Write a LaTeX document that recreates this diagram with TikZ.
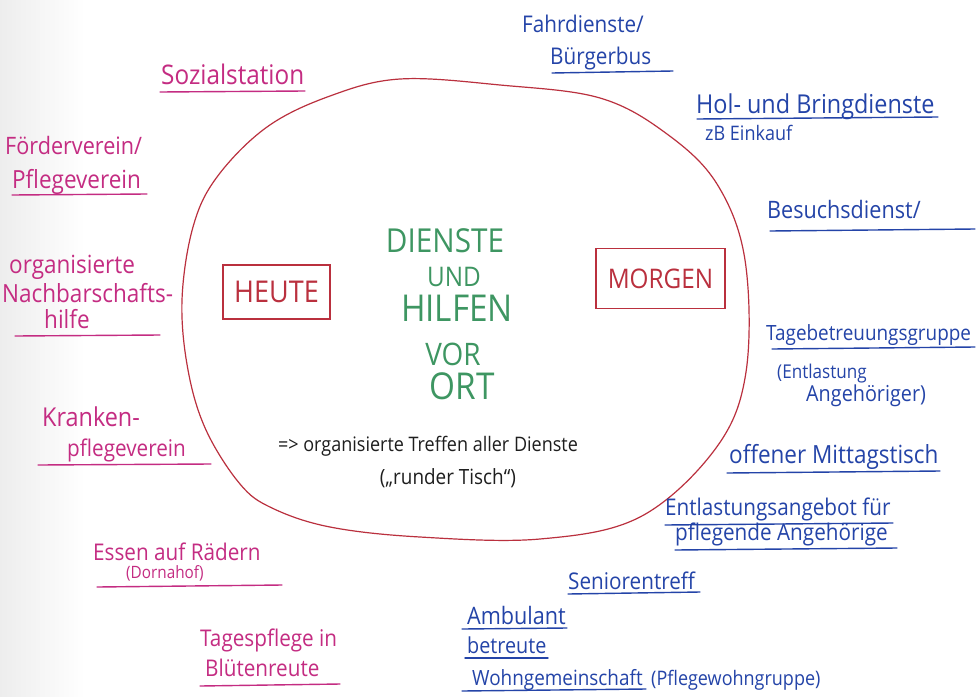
\documentclass[tikz,border=0pt]{standalone}
\usepackage{fontspec}
\setmainfont[FakeStretch=0.9]{Open Sans}
\definecolor{penpink}{RGB}{196,44,130}
\definecolor{penblue}{RGB}{36,68,168}
\definecolor{penred}{RGB}{186,48,62}
\definecolor{pengreen}{RGB}{62,150,98}
\definecolor{penblack}{RGB}{30,30,30}
\newcommand{\fsz}[1]{\fontsize{#1}{#1}\selectfont}
\tikzset{
  lbl/.style={inner sep=0pt, anchor=base west},
  pinklbl/.style={lbl, text=penpink},
  bluelbl/.style={lbl, text=penblue},
  pinkline/.style={draw=penpink, line width=1.4pt, line cap=round},
  blueline/.style={draw=penblue, line width=1.4pt, line cap=round},
  centrelbl/.style={inner sep=0pt, text=pengreen, anchor=center},
  framebox/.style={draw=penred, line width=1.3pt, inner sep=0pt, text=penred}
}
\begin{document}
\begin{tikzpicture}[x=1pt, y=-1pt]
  % paper
  \useasboundingbox (0,0) rectangle (976,696);
  \fill[white] (0,0) rectangle (976,696);
  \shade[left color=black!7, right color=white] (0,0) rectangle (85,696);

  % the big round outline in the middle
  \draw[penred, line width=1.2pt] plot[smooth cycle, tension=0.6] coordinates {
    (400,79) (500,85) (600,98) (667,134) (717,184) (745,260) (746,372)
    (716,448) (640,517) (540,539) (420,537) (330,527) (272,508) (240,484)
    (206,430) (188,370) (182,300) (193,227) (217,177) (267,127) (330,96)};

  % centre title
  \node[centrelbl, font=\fsz{33}] (dienste) at (445,241) {DIENSTE};
  \node[centrelbl, font=\fsz{27}] (und) at (454,277) {UND};
  \node[centrelbl, font=\fsz{37}] (hilfen) at (457,308) {HILFEN};
  \node[centrelbl, font=\fsz{31}] (vor) at (453,354) {VOR};
  \node[centrelbl, font=\fsz{37}] (ort) at (462,386) {ORT};

  % framed keywords
  \node[framebox, minimum width=107pt, minimum height=54pt, font=\fsz{30}]
    (heute) at (276.5,292) {HEUTE};
  \node[framebox, minimum width=129pt, minimum height=60pt, font=\fsz{27}]
    (morgen) at (660.5,278.5) {MORGEN};

  % note below the title
  \node[inner sep=0pt, text=penblack, font=\fsz{20}] (treffen) at (428,446)
    {=> organisierte Treffen aller Dienste};
  \node[inner sep=0pt, text=penblack, font=\fsz{21}] (tisch) at (448,478)
    {(„runder Tisch“)};

  % services of today (left side)
  \node[pinklbl, font=\fsz{27}] (sozial) at (161,84) {Sozialstation};
  \draw[pinkline] (160,92) -- (305,91);

  \node[pinklbl, font=\fsz{24}] (foerder) at (5,154) {Förderverein/};
  \node[pinklbl, font=\fsz{25}] (pflegev) at (12,188) {Pflegeverein};
  \draw[pinkline] (12,195) -- (147,194);

  \node[pinklbl, font=\fsz{25}] (orga) at (9,273) {organisierte};
  \node[pinklbl, font=\fsz{25}] (nachbar) at (2,302) {Nachbarschafts-};
  \node[pinklbl, font=\fsz{25}] (hilfe) at (44,328) {hilfe};
  \draw[pinkline] (15,336) -- (160,335);

  \node[pinklbl, font=\fsz{26}] (kranken) at (42,426) {Kranken-};
  \node[pinklbl, font=\fsz{23}] (kpflege) at (67,456) {pflegeverein};
  \draw[pinkline] (38,465) -- (211,464);

  \node[pinklbl, font=\fsz{23}] (essen) at (93,560) {Essen auf Rädern};
  \node[pinklbl, font=\fsz{17}] (dorna) at (126,578) {(Dornahof)};
  \draw[pinkline] (97,587) -- (282,585);

  \node[pinklbl, font=\fsz{23}] (tagespfl) at (200,646) {Tagespflege in};
  \node[pinklbl, font=\fsz{23}] (bluet) at (205,676) {Blütenreute};
  \draw[pinkline] (200,686) -- (340,684);

  % services of tomorrow (right side)
  \node[bluelbl, font=\fsz{23}] (fahr) at (522,32) {Fahrdienste/};
  \node[bluelbl, font=\fsz{23}] (buerger) at (550,64) {Bürgerbus};
  \draw[blueline] (552,73) -- (673,71);

  \node[bluelbl, font=\fsz{26}] (hol) at (696,113) {Hol- und Bringdienste};
  \draw[blueline] (697,119) -- (938,117);
  \node[bluelbl, font=\fsz{20}] (einkauf) at (705,140) {zB Einkauf};

  \node[bluelbl, font=\fsz{24}] (besuch) at (767,218) {Besuchsdienst/};
  \draw[blueline] (770,231) -- (975,229);

  \node[bluelbl, font=\fsz{21}] (tagebetr) at (766,340) {Tagebetreuungsgruppe};
  \draw[blueline] (772,349) -- (975,347);
  \node[bluelbl, font=\fsz{19}] (entl) at (777,378) {(Entlastung};
  \node[bluelbl, font=\fsz{22}] (angeh) at (806,401) {Angehöriger)};

  \node[bluelbl, font=\fsz{25}] (mittag) at (729,463) {offener Mittagstisch};
  \draw[blueline] (727,473) -- (940,471);

  \node[bluelbl, font=\fsz{23}] (angebot) at (665,515) {Entlastungsangebot für};
  \draw[blueline] (665,525) -- (893,523);
  \node[bluelbl, font=\fsz{23}] (pflegend) at (675,540) {pflegende Angehörige};
  \draw[blueline] (675,550) -- (897,548);

  \node[bluelbl, font=\fsz{23}] (senior) at (568,589) {Seniorentreff};
  \draw[blueline] (568,594) -- (700,592);

  \node[bluelbl, font=\fsz{24}] (ambul) at (467,624) {Ambulant};
  \draw[blueline] (462,629) -- (567,628);
  \node[bluelbl, font=\fsz{22}] (betreut) at (467,653) {betreute};
  \draw[blueline] (465,658) -- (548,658);
  \node[bluelbl, font=\fsz{21}] (wg) at (472,685) {Wohngemeinschaft};
  \draw[blueline] (462,691) -- (646,689);
  \node[bluelbl, font=\fsz{20}] (pwg) at (651,685) {(Pflegewohngruppe)};
\end{tikzpicture}
\end{document}
